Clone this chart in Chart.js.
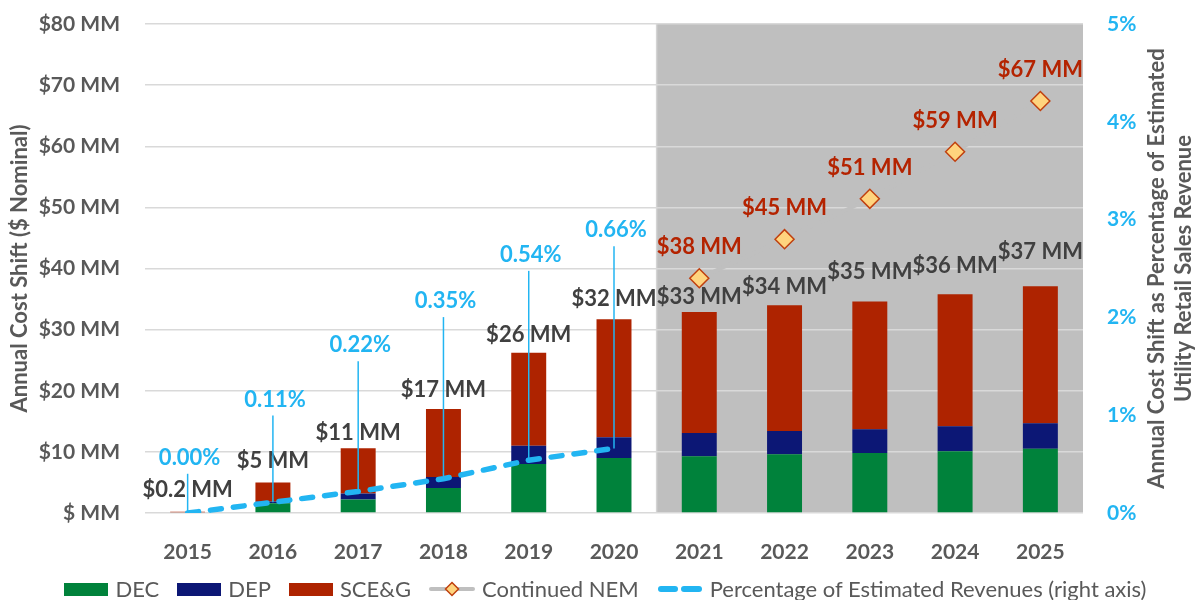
<!DOCTYPE html>
<html>
<head>
<meta charset="utf-8">
<script src="https://cdn.jsdelivr.net/npm/chart.js@4.4.0/dist/chart.umd.min.js"></script>
<style>
  html, body { margin: 0; padding: 0; background: #fff; }
  #contenedor { position: relative; width: 1195px; height: 600px; }
  #leyenda {
    position: absolute; left: 0; top: 576px; width: 1195px; height: 26px;
    display: flex; justify-content: center; align-items: center;
    font: 22px Lato; line-height: 26px; color: #595959; padding-left: 16px; box-sizing: border-box;
  }
  .item { display: flex; align-items: center; margin: 0 9px; white-space: nowrap; }
  .item canvas { margin-right: 7px; }
</style>
</head>
<body>
<div id="contenedor">
  <canvas id="grafico" width="1195" height="600"></canvas>
  <div id="leyenda"></div>
</div>
<script>
// datos (MM USD)
const anios = ['2015', '2016', '2017', '2018', '2019', '2020', '2021', '2022', '2023', '2024', '2025'];
const dec = [0, 1.6, 2.2, 4.1, 8.0, 9.0, 9.3, 9.6, 9.8, 10.1, 10.5];
const dep = [0, 0.3, 1.0, 1.8, 3.0, 3.4, 3.8, 3.8, 3.9, 4.1, 4.2];
const sceg = [0.2, 3.1, 7.4, 11.1, 15.2, 19.3, 19.8, 20.6, 20.9, 21.6, 22.4];
const nemContinuado = [null, null, null, null, null, null, 38.4, 44.8, 51.4, 59.1, 67.4];
const porcentaje = [0.00, 0.11, 0.22, 0.35, 0.54, 0.66, null, null, null, null, null];
const ticksIzq = ['$ MM', '$10 MM', '$20 MM', '$30 MM', '$40 MM', '$50 MM', '$60 MM', '$70 MM', '$80 MM'];
const ticksDer = ['0%', '1%', '2%', '3%', '4%', '5%'];

const VERDE = '#00823B', AZUL = '#0C1775', ROJO = '#AE2300';
const CELESTE = '#22B5F2', GRIS_TXT = '#595959';
const FUENTE = 'Lato';

// simbolos de la leyenda
function simboloCaja(color) {
    const c = document.createElement('canvas');
    c.width = 44; c.height = 13;
    const g = c.getContext('2d');
    g.fillStyle = color;
    g.fillRect(0, 0, 44, 13);
    return c;
}
function simboloNEM() {
    const c = document.createElement('canvas');
    c.width = 46; c.height = 16;
    const g = c.getContext('2d');
    g.strokeStyle = '#BFBFBF'; g.lineWidth = 4; g.lineCap = 'round';
    g.beginPath(); g.moveTo(2, 8); g.lineTo(44, 8); g.stroke();
    g.beginPath();
    g.moveTo(23, 1.5); g.lineTo(29.5, 8); g.lineTo(23, 14.5); g.lineTo(16.5, 8); g.closePath();
    g.fillStyle = '#FFD47E'; g.fill();
    g.strokeStyle = '#C0400F'; g.lineWidth = 1.5; g.stroke();
    return c;
}
function simboloPorcentaje() {
    const c = document.createElement('canvas');
    c.width = 46; c.height = 10;
    const g = c.getContext('2d');
    g.strokeStyle = CELESTE; g.lineWidth = 6; g.lineCap = 'round';
    g.beginPath(); g.moveTo(4, 5); g.lineTo(18, 5); g.stroke();
    g.beginPath(); g.moveTo(27, 5); g.lineTo(42, 5); g.stroke();
    return c;
}
const simbolos = [simboloCaja(VERDE), simboloCaja(AZUL), simboloCaja(ROJO), simboloNEM(), simboloPorcentaje()];

// zona gris de proyeccion (2021 en adelante)
const zonaGris = {
    id: 'zonaGris',
    beforeDraw(chart) {
        const ctx = chart.ctx, area = chart.chartArea, x = chart.scales.x;
        const inicio = (x.getPixelForValue(5) + x.getPixelForValue(6)) / 2;
        ctx.save();
        ctx.fillStyle = '#BFBFBF';
        ctx.fillRect(inicio, area.top, area.right - inicio, area.bottom - area.top);
        ctx.strokeStyle = '#D4D4D4';
        ctx.lineWidth = 1.5;
        ctx.beginPath(); ctx.moveTo(inicio, area.top); ctx.lineTo(inicio, area.bottom); ctx.stroke();
        ctx.restore();
    }
};

// etiquetas de datos y lineas guia
const etiquetas = {
    id: 'etiquetas',
    afterDatasetsDraw(chart, args, opts) {
        const ctx = chart.ctx;
        const x = chart.scales.x, y = chart.scales.y, y1 = chart.scales.y1;
        ctx.save();
        ctx.font = 'bold 22px ' + FUENTE;
        ctx.textAlign = 'center';
        ctx.textBaseline = 'middle';

        // totales de barras
        anios.forEach(function (a, i) {
            const total = dec[i] + dep[i] + sceg[i];
            const txt = total < 1 ? '$' + total.toFixed(1) + ' MM' : '$' + Math.round(total) + ' MM';
            ctx.fillStyle = '#404040';
            ctx.fillText(txt, x.getPixelForValue(i), y.getPixelForValue(total) - opts.subidaTotal[i]);
        });

        // NEM continuado
        nemContinuado.forEach(function (v, i) {
            if (v === null) return;
            ctx.fillStyle = '#B42300';
            ctx.fillText('$' + Math.round(v) + ' MM', x.getPixelForValue(i), y.getPixelForValue(v) - opts.subidaNEM);
        });

        // porcentajes con linea guia
        porcentaje.forEach(function (p, i) {
            if (p === null) return;
            const total = dec[i] + dep[i] + sceg[i];
            const px = x.getPixelForValue(i);
            const ly = y.getPixelForValue(total) - opts.subidaPct[i];
            ctx.strokeStyle = CELESTE;
            ctx.lineWidth = 1.5;
            ctx.beginPath();
            ctx.moveTo(px, ly + 16);
            ctx.lineTo(px, y1.getPixelForValue(p));
            ctx.stroke();
            ctx.fillStyle = CELESTE;
            ctx.fillText(p.toFixed(2) + '%', px + 2, ly);
        });
        ctx.restore();
    },
    afterDraw(chart) {
        const ctx = chart.ctx, area = chart.chartArea;
        const centro = (area.top + area.bottom) / 2;
        ctx.save();
        ctx.font = 'bold 22px ' + FUENTE;
        ctx.fillStyle = GRIS_TXT;
        ctx.textAlign = 'center';
        ctx.textBaseline = 'middle';
        const titulo = function (texto, tx) {
            ctx.save();
            ctx.translate(tx, centro);
            ctx.rotate(-Math.PI / 2);
            ctx.fillText(texto, 0, 0);
            ctx.restore();
        };
        titulo('Annual Cost Shift ($ Nominal)', 20);
        titulo('Annual Cost Shift as Percentage of Estimated', 1157);
        titulo('Utility Retail Sales Revenue', 1184);
        ctx.restore();
    }
};

const fuenteTicks = { family: FUENTE, size: 21, weight: 'bold' };

// ancho fijo del eje y sin relleno vertical extra
function ajustarEje(ancho) {
    return function (s) {
        s.width = ancho;
        s.paddingTop = 12;
        s.paddingBottom = 12;
    };
}

const ctx = document.getElementById('grafico').getContext('2d');
const grafico = new Chart(ctx, {
    type: 'bar',
    data: {
        labels: anios,
        datasets: [
            { label: 'DEC', data: dec, backgroundColor: VERDE, stack: 'costo', order: 2 },
            { label: 'DEP', data: dep, backgroundColor: AZUL, stack: 'costo', order: 2 },
            { label: 'SCE&G', data: sceg, backgroundColor: ROJO, stack: 'costo', order: 2 },
            {
                type: 'line', label: 'Continued NEM', data: nemContinuado, stack: 'nem', order: 1,
                borderColor: '#BFBFBF', borderWidth: 4, pointStyle: 'rectRot', pointRadius: 9.5,
                pointBackgroundColor: '#FFD47E', pointBorderColor: '#C0400F', pointBorderWidth: 1.5
            },
            {
                type: 'line', label: 'Percentage of Estimated Revenues (right axis)', data: porcentaje,
                yAxisID: 'y1', order: 0, borderColor: CELESTE, borderWidth: 5.5,
                borderDash: [11, 12], borderCapStyle: 'round', pointRadius: 0, spanGaps: false
            }
        ]
    },
    options: {
        responsive: false,
        animation: false,
        devicePixelRatio: 1,
        layout: { padding: { top: 24, bottom: 0, left: 0, right: 0 } },
        datasets: { bar: { barPercentage: 0.41, categoryPercentage: 1 } },
        plugins: {
            tooltip: { enabled: false },
            legend: { display: false },
            etiquetas: {
                subidaTotal: [22, 22, 15, 19, 18, 20, 15, 18, 30, 28, 34],
                subidaNEM: 31,
                subidaPct: [54, 83, 103, 108, 98, 89]
            }
        },
        scales: {
            x: {
                stacked: true,
                grid: { display: false },
                border: { display: false },
                ticks: { font: fuenteTicks, color: GRIS_TXT, padding: 19 },
                afterFit: function (s) { s.height = 87; }
            },
            y: {
                stacked: true,
                min: 0, max: 80,
                ticks: {
                    stepSize: 10, font: fuenteTicks, color: GRIS_TXT, padding: 25,
                    callback: function (v, i) { return ticksIzq[i]; }
                },
                grid: { color: '#D9D9D9', lineWidth: 1.5, drawTicks: false },
                border: { display: false },
                afterFit: ajustarEje(145)
            },
            y1: {
                position: 'right',
                min: 0, max: 5,
                ticks: {
                    stepSize: 1, font: fuenteTicks, color: CELESTE, padding: 24,
                    callback: function (v, i) { return ticksDer[i]; }
                },
                grid: { drawOnChartArea: false, drawTicks: false },
                border: { display: false },
                afterFit: ajustarEje(112)
            }
        }
    },
    plugins: [zonaGris, etiquetas]
});

// leyenda en HTML a partir de los datasets
const leyenda = document.getElementById('leyenda');
grafico.data.datasets.forEach(function (ds, i) {
    const item = document.createElement('div');
    item.className = 'item';
    item.appendChild(simbolos[i]);
    const texto = document.createElement('span');
    texto.textContent = ds.label;
    item.appendChild(texto);
    leyenda.appendChild(item);
});
</script>
</body>
</html>
